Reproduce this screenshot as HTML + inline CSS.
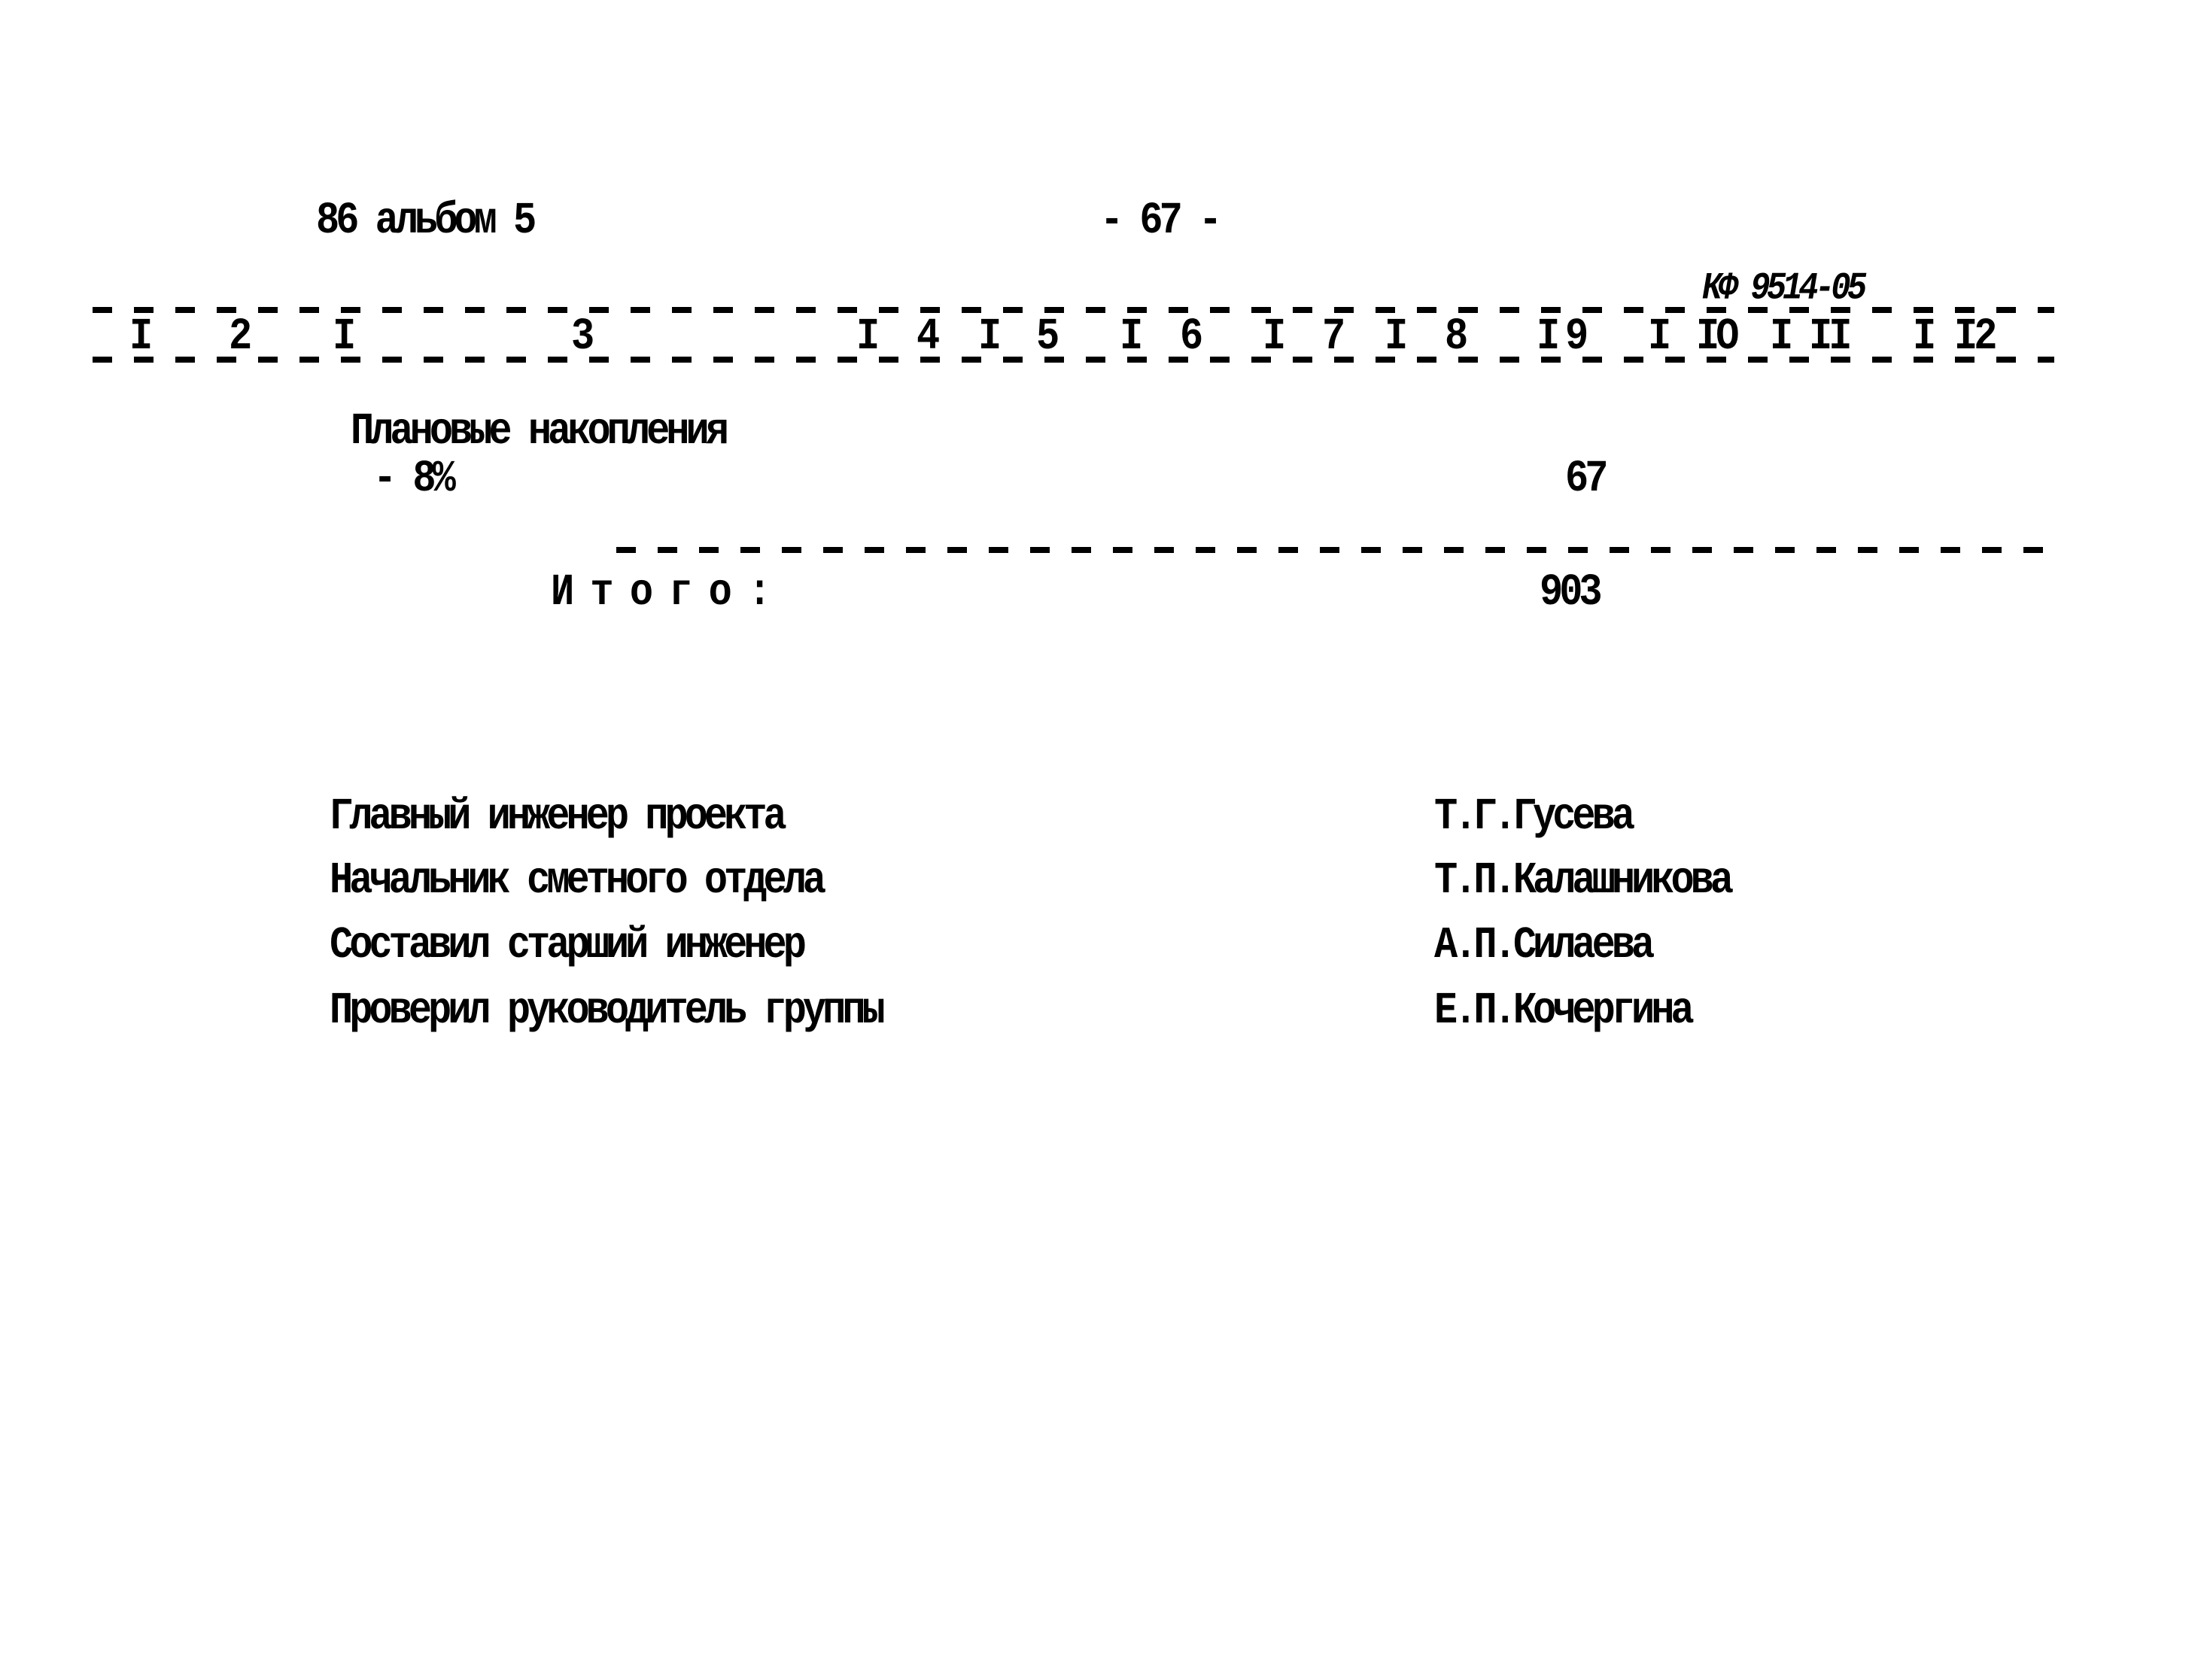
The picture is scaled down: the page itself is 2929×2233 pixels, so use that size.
<!DOCTYPE html>
<html><head><meta charset="utf-8"><style>
body{margin:0;width:2929px;height:2233px;background:#fff;position:relative;overflow:hidden}
.t{position:absolute;font-family:"Liberation Mono","DejaVu Sans Mono",monospace;font-weight:bold;font-size:52px;line-height:52px;letter-spacing:-5px;color:#000;white-space:pre;transform:scaleY(1.15);transform-origin:left center}
svg{position:absolute;left:0;top:0}
</style></head><body>
<svg width="2929" height="2233">
<g stroke="#000" stroke-width="8" stroke-dasharray="26 29">
<line x1="123" y1="412" x2="2730" y2="412"/>
<line x1="123" y1="478" x2="2730" y2="478"/>
<line x1="819" y1="731" x2="2730" y2="731"/>
</g>
</svg>
<div class="t" style="left:420px;top:268px">86 альбом 5</div>
<div class="t" style="left:1462px;top:268px">- 67 -</div>
<div class="t" style="left:2262px;top:358px;font-size:44px;font-style:italic">КФ 9514-05</div>
<div class="t" style="left:172px;top:422px">I</div>
<div class="t" style="left:304px;top:422px">2</div>
<div class="t" style="left:442px;top:422px">I</div>
<div class="t" style="left:759px;top:422px">3</div>
<div class="t" style="left:1138px;top:422px">I</div>
<div class="t" style="left:1218px;top:422px">4</div>
<div class="t" style="left:1300px;top:422px">I</div>
<div class="t" style="left:1377px;top:422px">5</div>
<div class="t" style="left:1488px;top:422px">I</div>
<div class="t" style="left:1568px;top:422px">6</div>
<div class="t" style="left:1678px;top:422px">I</div>
<div class="t" style="left:1757px;top:422px">7</div>
<div class="t" style="left:1840px;top:422px">I</div>
<div class="t" style="left:1920px;top:422px">8</div>
<div class="t" style="left:2042px;top:422px">I</div>
<div class="t" style="left:2080px;top:422px">9</div>
<div class="t" style="left:2190px;top:422px">I</div>
<div class="t" style="left:2254px;top:422px">IO</div>
<div class="t" style="left:2352px;top:422px">I</div>
<div class="t" style="left:2404px;top:422px">II</div>
<div class="t" style="left:2542px;top:422px">I</div>
<div class="t" style="left:2597px;top:422px">I2</div>
<div class="t" style="left:466px;top:548px">Плановые накопления</div>
<div class="t" style="left:496px;top:611px">- 8%</div>
<div class="t" style="left:2080px;top:611px">67</div>
<div class="t" style="left:732px;top:762px">И т о г о :</div>
<div class="t" style="left:2046px;top:762px">903</div>
<div class="t" style="left:438px;top:1060px">Главный инженер проекта</div>
<div class="t" style="left:438px;top:1145px">Начальник сметного отдела</div>
<div class="t" style="left:438px;top:1231px">Составил старший инженер</div>
<div class="t" style="left:438px;top:1318px">Проверил руководитель группы</div>
<div class="t" style="left:1906px;top:1060px">Т.Г.Гусева</div>
<div class="t" style="left:1906px;top:1145px">Т.П.Калашникова</div>
<div class="t" style="left:1906px;top:1231px">А.П.Силаева</div>
<div class="t" style="left:1906px;top:1318px">Е.П.Кочергина</div>
</body></html>
